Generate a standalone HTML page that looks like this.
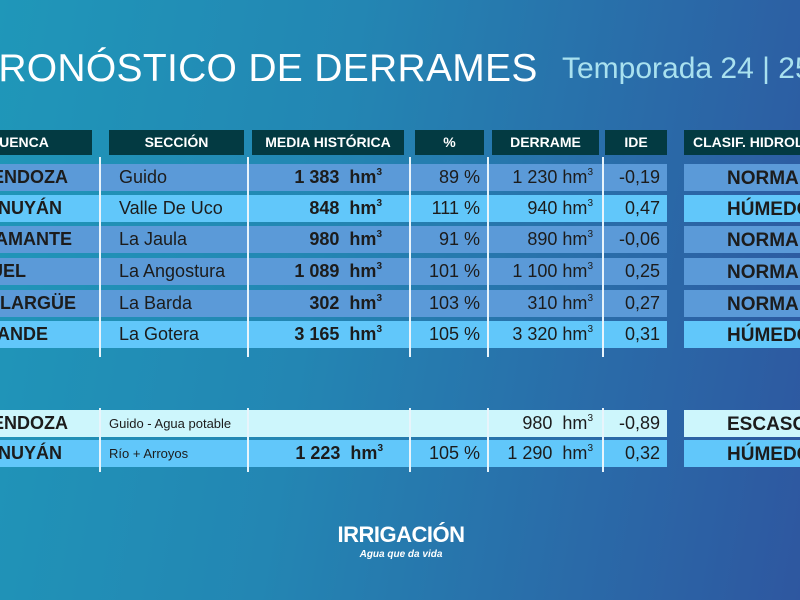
<!DOCTYPE html>
<html><head><meta charset="utf-8"><style>
*{margin:0;padding:0;box-sizing:border-box}
body{width:800px;height:600px;overflow:hidden;position:relative;font-family:"Liberation Sans",sans-serif;
background:linear-gradient(100deg,#1f97b9 0%,#2386b3 40%,#2a6aa8 75%,#2e57a0 100%);}
.a{position:absolute}
.h{position:absolute;top:130px;height:25px;background:#033a42;color:#fff;font-weight:bold;font-size:14px;line-height:25px;text-align:center;white-space:nowrap;overflow:hidden}
.r{position:absolute;left:0;width:667px;height:27px}
.m{background:#5b9ad8}.l{background:#61c7fa}.p{background:#cdf6fc}
.c{position:absolute;left:684px;width:120px;height:27px;font-weight:bold;font-size:19px;line-height:29px;color:#1c1c1c;text-align:left;padding-left:43px;white-space:nowrap;overflow:hidden}
.t{position:absolute;font-size:18px;line-height:27px;height:27px;color:#1c1c1c;white-space:nowrap}
.b{font-weight:bold}
.n{position:absolute;width:200px;text-align:right;font-weight:bold;font-size:18px;line-height:27px;color:#1c1c1c;white-space:nowrap}
.v{position:absolute;width:1.5px;background:#e8f4fb}
sup{font-size:10px;line-height:0;position:relative;top:-8px;vertical-align:baseline}
</style></head><body>
<div class="a" style="left:-28px;top:47px;font-size:39px;color:#fff;white-space:nowrap;letter-spacing:0.3px">PRONÓSTICO DE DERRAMES</div>
<div class="a" style="left:562px;top:52px;font-size:30px;color:#a9e1ef;white-space:nowrap">Temporada 24 | 25</div>

<div class="h" style="left:0;width:92px;text-align:left;padding-left:0"><span style="position:relative;left:-11px">CUENCA</span></div>
<div class="h" style="left:109px;width:135px">SECCIÓN</div>
<div class="h" style="left:252px;width:152px">MEDIA HISTÓRICA</div>
<div class="h" style="left:415px;width:69px">%</div>
<div class="h" style="left:492px;width:107px">DERRAME</div>
<div class="h" style="left:605px;width:62px">IDE</div>
<div class="h" style="left:684px;width:130px;text-align:left;padding-left:9px">CLASIF. HIDROLÓGICA</div>

<div class="r m" style="top:164px"></div>
<div class="r l" style="top:195px"></div>
<div class="r m" style="top:226px"></div>
<div class="r m" style="top:258px"></div>
<div class="r m" style="top:290px"></div>
<div class="r l" style="top:321px"></div>
<div class="c m" style="top:164px">NORMAL</div>
<div class="c l" style="top:195px">HÚMEDO</div>
<div class="c m" style="top:226px">NORMAL</div>
<div class="c m" style="top:258px">NORMAL</div>
<div class="c m" style="top:290px">NORMAL</div>
<div class="c l" style="top:321px">HÚMEDO</div>

<div class="r p" style="top:410px"></div>
<div class="r l" style="top:440px"></div>
<div class="c p" style="top:410px">ESCASO</div>
<div class="c l" style="top:440px">HÚMEDO</div>

<div class="v" style="left:99px;top:157px;height:200px"></div>
<div class="v" style="left:247px;top:157px;height:200px"></div>
<div class="v" style="left:409px;top:157px;height:200px"></div>
<div class="v" style="left:487px;top:157px;height:200px"></div>
<div class="v" style="left:602px;top:157px;height:200px"></div>
<div class="v" style="left:99px;top:408px;height:64px"></div>
<div class="v" style="left:247px;top:408px;height:64px"></div>
<div class="v" style="left:409px;top:408px;height:64px"></div>
<div class="v" style="left:487px;top:408px;height:64px"></div>
<div class="v" style="left:602px;top:408px;height:64px"></div>

<div class="n" style="left:-132px;top:164px">MENDOZA</div>
<div class="n" style="left:-138px;top:195px">TUNUYÁN</div>
<div class="n" style="left:-128px;top:226px">DIAMANTE</div>
<div class="n" style="left:-174px;top:258px">ATUEL</div>
<div class="n" style="left:-124px;top:290px">MALARGÜE</div>
<div class="n" style="left:-152px;top:321px">GRANDE</div>
<div class="n" style="left:-132px;top:410px">MENDOZA</div>
<div class="n" style="left:-138px;top:440px">TUNUYÁN</div>

<div style="position:absolute;left:119px;top:164px">
<div class="t" style="top:0">Guido</div>
<div class="t" style="top:31px">Valle De Uco</div>
<div class="t" style="top:62px">La Jaula</div>
<div class="t" style="top:94px">La Angostura</div>
<div class="t" style="top:126px">La Barda</div>
<div class="t" style="top:157px">La Gotera</div>
</div>
<div style="position:absolute;left:252px;top:164px;width:130px">
<div class="t b" style="right:0;top:0">1 383&nbsp; hm<sup>3</sup></div>
<div class="t b" style="right:0;top:31px">848&nbsp; hm<sup>3</sup></div>
<div class="t b" style="right:0;top:62px">980&nbsp; hm<sup>3</sup></div>
<div class="t b" style="right:0;top:94px">1 089&nbsp; hm<sup>3</sup></div>
<div class="t b" style="right:0;top:126px">302&nbsp; hm<sup>3</sup></div>
<div class="t b" style="right:0;top:157px">3 165&nbsp; hm<sup>3</sup></div>
</div>
<div style="position:absolute;left:410px;top:164px;width:70px">
<div class="t" style="right:0;top:0">89 %</div>
<div class="t" style="right:0;top:31px">111 %</div>
<div class="t" style="right:0;top:62px">91 %</div>
<div class="t" style="right:0;top:94px">101 %</div>
<div class="t" style="right:0;top:126px">103 %</div>
<div class="t" style="right:0;top:157px">105 %</div>
</div>
<div style="position:absolute;left:490px;top:164px;width:103px">
<div class="t" style="right:0;top:0">1 230 hm<sup>3</sup></div>
<div class="t" style="right:0;top:31px">940 hm<sup>3</sup></div>
<div class="t" style="right:0;top:62px">890 hm<sup>3</sup></div>
<div class="t" style="right:0;top:94px">1 100 hm<sup>3</sup></div>
<div class="t" style="right:0;top:126px">310 hm<sup>3</sup></div>
<div class="t" style="right:0;top:157px">3 320 hm<sup>3</sup></div>
</div>
<div style="position:absolute;left:604px;top:164px;width:56px">
<div class="t" style="right:0;top:0">-0,19</div>
<div class="t" style="right:0;top:31px">0,47</div>
<div class="t" style="right:0;top:62px">-0,06</div>
<div class="t" style="right:0;top:94px">0,25</div>
<div class="t" style="right:0;top:126px">0,27</div>
<div class="t" style="right:0;top:157px">0,31</div>
</div>

<div class="t" style="left:109px;top:410px;font-size:13px">Guido - Agua potable</div>
<div class="t" style="left:109px;top:440px;font-size:13px">Río + Arroyos</div>
<div class="t b" style="right:417px;top:440px">1 223&nbsp; hm<sup>3</sup></div>
<div class="t" style="right:320px;top:440px">105 %</div>
<div class="t" style="right:207px;top:410px">980&nbsp; hm<sup>3</sup></div>
<div class="t" style="right:207px;top:440px">1 290&nbsp; hm<sup>3</sup></div>
<div class="t" style="right:140px;top:410px">-0,89</div>
<div class="t" style="right:140px;top:440px">0,32</div>

<div class="a" style="left:330px;top:522px;width:142px;text-align:center;font-size:22px;font-weight:bold;color:#fff;letter-spacing:-0.5px">IRRIGACIÓN</div>
<div class="a" style="left:330px;top:549px;width:142px;text-align:center;font-size:10px;font-style:italic;font-weight:bold;color:#fff">Agua que da vida</div>
</body></html>
